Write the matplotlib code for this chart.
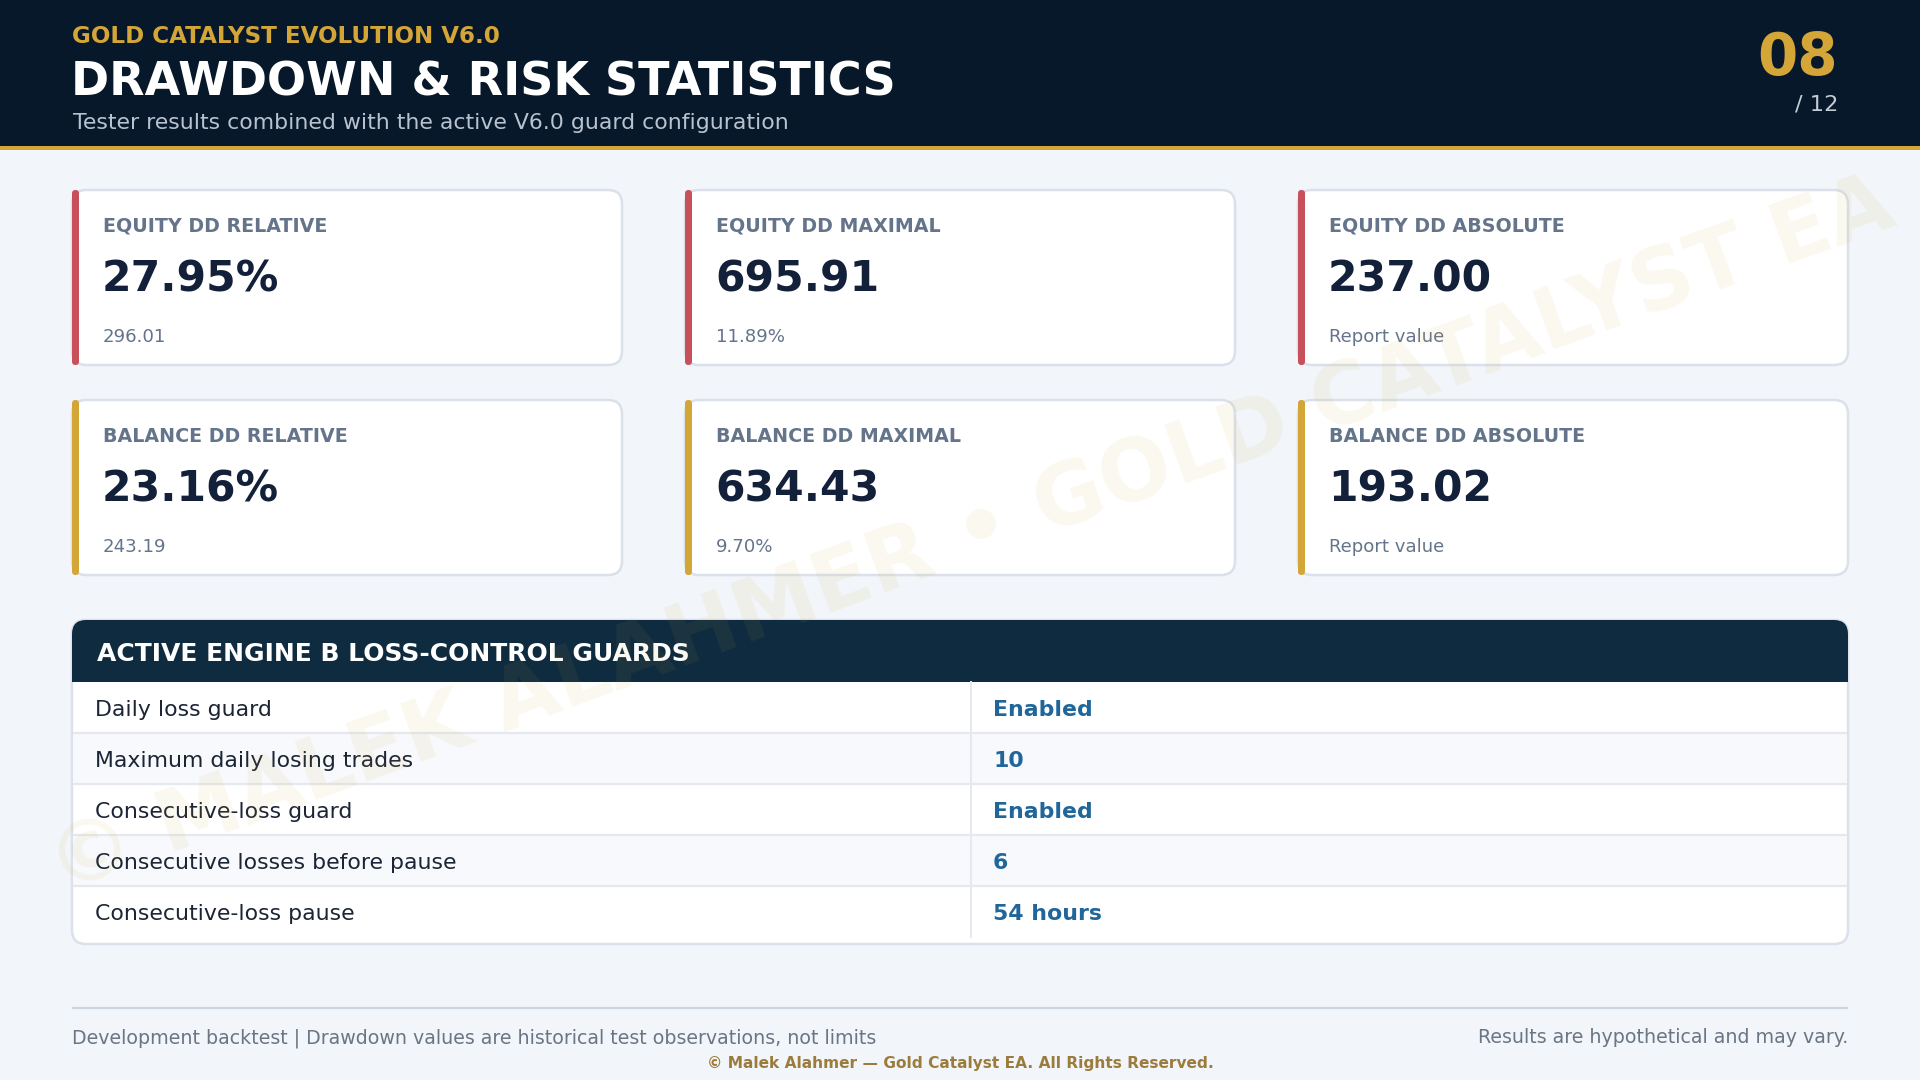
import matplotlib
matplotlib.use("Agg")
import matplotlib.pyplot as plt
from matplotlib.patches import FancyBboxPatch, Rectangle

# ---------------- data ----------------
kicker = "GOLD CATALYST EVOLUTION V6.0"
title = "DRAWDOWN & RISK STATISTICS"
subtitle = "Tester results combined with the active V6.0 guard configuration"
page_no = "08"
page_total = "/ 12"

card_labels = ["EQUITY DD RELATIVE", "EQUITY DD MAXIMAL", "EQUITY DD ABSOLUTE",
               "BALANCE DD RELATIVE", "BALANCE DD MAXIMAL", "BALANCE DD ABSOLUTE"]
card_values = ["27.95%", "695.91", "237.00", "23.16%", "634.43", "193.02"]
card_subs = ["296.01", "11.89%", "Report value", "243.19", "9.70%", "Report value"]
card_kind = ["equity", "equity", "equity", "balance", "balance", "balance"]

table_title = "ACTIVE ENGINE B LOSS-CONTROL GUARDS"
guard_names = ["Daily loss guard", "Maximum daily losing trades", "Consecutive-loss guard",
               "Consecutive losses before pause", "Consecutive-loss pause"]
guard_values = ["Enabled", "10", "Enabled", "6", "54 hours"]

footer_left = "Development backtest | Drawdown values are historical test observations, not limits"
footer_right = "Results are hypothetical and may vary."
copyright_txt = "\u00a9 Malek Alahmer \u2014 Gold Catalyst EA. All Rights Reserved."
watermark = "\u00a9 MALEK ALAHMER \u2022 GOLD CATALYST EA"

# ---------------- style ----------------
BG = "#f2f5f9"
HEADER = "#07182a"
GOLD = "#d4a537"
RED = "#c8505a"
BORDER = "#dae1ea"
LABEL = "#64748b"
VALUE = "#13203a"
TBL_HEAD = "#0e2b40"
ROW_ALT = "#f7f9fc"
ROW_SEP = "#e5e9ef"
BLUE = "#21669a"
accent = {"equity": RED, "balance": GOLD}

def pt(px):
    return px * 0.72

fig = plt.figure(figsize=(19.2, 10.8), dpi=100, facecolor=BG)
ax = fig.add_axes([0, 0, 1, 1])
ax.set_xlim(0, 1920)
ax.set_ylim(1080, 0)
ax.axis("off")
ax.set_facecolor(BG)

# header band
ax.add_patch(Rectangle((0, 0), 1920, 146, facecolor=HEADER, edgecolor="none", zorder=1))
ax.add_patch(Rectangle((0, 146), 1920, 4, facecolor=GOLD, edgecolor="none", zorder=1))
ax.text(72, 43, kicker, fontsize=pt(23), fontweight="bold", color=GOLD, va="baseline", zorder=2)
ax.text(71, 95, title, fontsize=pt(46), fontweight="bold", color="white", va="baseline", zorder=2)
ax.text(73, 129, subtitle, fontsize=pt(22), color="#b9c3cf", va="baseline", zorder=2)
ax.text(1838, 75, page_no, fontsize=pt(58), fontweight="bold", color=GOLD, ha="right", va="baseline", zorder=2)
ax.text(1838, 110, page_total, fontsize=pt(22.5), color="#c3cbd5", ha="right", va="baseline", zorder=2)

# cards
card_x = [72, 685, 1298]
card_y = [190, 400]
card_w, card_h = 550, 175
for i, lab in enumerate(card_labels):
    cx = card_x[i % 3]
    cy = card_y[i // 3]
    ax.add_patch(FancyBboxPatch((cx, cy), card_w, card_h,
                                boxstyle="round,pad=0,rounding_size=14",
                                facecolor="white", edgecolor=BORDER, linewidth=1.8, zorder=3))
    ax.add_patch(FancyBboxPatch((cx, cy), 7, card_h,
                                boxstyle="round,pad=0,rounding_size=3.5",
                                facecolor=accent[card_kind[i]], edgecolor="none", zorder=4))
    ax.text(cx + 31, cy + 42, lab, fontsize=pt(19), fontweight="bold", color=LABEL,
            va="baseline", zorder=5)
    ax.text(cx + 30, cy + 102, card_values[i], fontsize=pt(42.5), fontweight="bold", color=VALUE,
            va="baseline", zorder=5)
    ax.text(cx + 31, cy + 152, card_subs[i], fontsize=pt(18.2), color=LABEL,
            va="baseline", zorder=5)

# table
tx0, tx1 = 72, 1848
ty0, head_bot, ty1 = 620, 682, 944
row_h = 51
outer = FancyBboxPatch((tx0, ty0), tx1 - tx0, ty1 - ty0,
                       boxstyle="round,pad=0,rounding_size=14",
                       facecolor="white", edgecolor=BORDER, linewidth=1.8, zorder=3)
ax.add_patch(outer)
clip = FancyBboxPatch((tx0, ty0), tx1 - tx0, ty1 - ty0,
                      boxstyle="round,pad=0,rounding_size=14",
                      facecolor="none", edgecolor="none", transform=ax.transData)
hdr = Rectangle((tx0, ty0), tx1 - tx0, head_bot - ty0, facecolor=TBL_HEAD, edgecolor="none", zorder=4)
ax.add_patch(hdr)
hdr.set_clip_path(clip)
ax.text(97, 661, table_title, fontsize=pt(25), fontweight="bold", color="white",
        va="baseline", zorder=6)

col_x = 971
for r, (name, val) in enumerate(zip(guard_names, guard_values)):
    top = head_bot + r * row_h
    if r % 2 == 1:
        rr = Rectangle((tx0 + 1, top), tx1 - tx0 - 2, row_h, facecolor=ROW_ALT, edgecolor="none", zorder=4)
        ax.add_patch(rr)
    if r > 0:
        ax.plot([tx0 + 1, tx1 - 1], [top, top], color=ROW_SEP, linewidth=1.6, zorder=5,
                solid_capstyle="butt")
    ax.text(95, top + 34, name, fontsize=pt(22), color="#1c2535", va="baseline", zorder=6)
    ax.text(993, top + 34, val, fontsize=pt(22), fontweight="bold", color=BLUE,
            va="baseline", zorder=6)
ax.plot([col_x, col_x], [head_bot, head_bot + 5 * row_h], color=ROW_SEP, linewidth=1.4, zorder=5)

# watermark
ax.text(972, 537, watermark, fontsize=61, fontweight="bold", color=GOLD, alpha=0.08,
        rotation=20, rotation_mode="anchor", ha="center", va="center", zorder=10)

# footer
ax.plot([72, 1848], [1008, 1008], color="#cdd5df", linewidth=1.6, zorder=2, solid_capstyle="butt")
ax.text(72, 1043, footer_left, fontsize=pt(19), color="#6b7684", va="baseline", zorder=2)
ax.text(1848, 1043, footer_right, fontsize=pt(19), color="#6b7684", ha="right", va="baseline", zorder=2)
ax.text(960, 1068, copyright_txt, fontsize=pt(15.4), fontweight="bold", color="#9b7c3c",
        ha="center", va="baseline", zorder=2)

fig.savefig("out.png", dpi=100, facecolor=BG)
